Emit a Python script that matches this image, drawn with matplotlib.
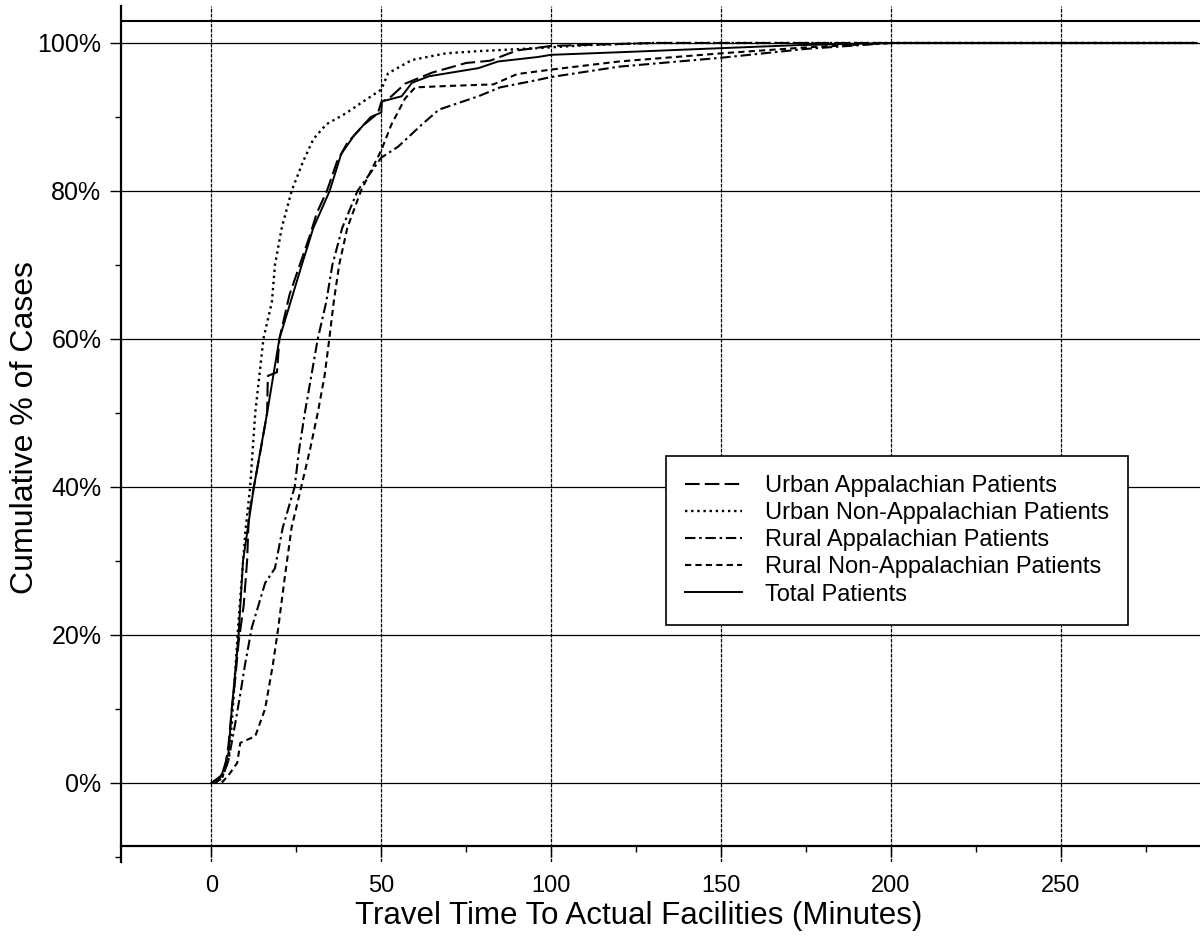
import matplotlib
matplotlib.use("Agg")
import matplotlib.pyplot as plt
from matplotlib.ticker import MultipleLocator, FixedLocator

# Données (minutes, % cumulé)
urban_app_min = [0, 2, 4, 5, 6, 7, 8, 9.5, 10.5, 11, 12.5, 14.5, 16.4, 16.6, 19.3, 20, 21, 23, 26, 29, 31, 34,
                 37, 40, 45, 49, 50, 53, 57, 65, 75, 82, 90, 100, 130, 290]
urban_app_pct = [0, 0.3, 2, 5, 10, 14, 19, 24, 30, 36, 40, 45, 50, 55, 55.5, 60, 62, 66, 70, 74, 77, 80,
                 84, 86.5, 89, 90.5, 92, 92.8, 94.5, 96, 97.3, 97.6, 99, 99.6, 100, 100]

urban_nonapp_min = [0, 3, 5, 6, 7, 8, 9, 10, 11.4, 12.9, 15.3, 17.8, 18.7, 20.7, 23.6, 27, 30, 33.8, 39.6,
                    44.4, 50, 52, 59, 69, 78.6, 96, 110, 130, 290]
urban_nonapp_pct = [0, 0.5, 3, 8, 15, 22, 28, 34, 40, 50, 60, 65, 70, 75, 80, 84, 87, 89, 90.5,
                    92, 93.7, 95.9, 97.7, 98.6, 98.9, 99.3, 99.7, 100, 100]

rural_app_min = [0, 3, 5, 7, 8.5, 9.9, 11.9, 15.8, 18.7, 21, 24.5, 25.8, 27.5, 29.4, 31.3, 33.8, 35.6, 38.5,
                 43, 50, 55, 62, 67, 78.6, 85, 96, 100, 120, 150, 175, 200, 290]
rural_app_pct = [0, 0.5, 3, 8, 12, 16, 21, 27, 29, 34.5, 40, 45, 50, 55, 60, 65, 70, 75,
                 80, 84.5, 86, 89, 91, 92.8, 94, 95, 95.4, 96.8, 98, 99.2, 100, 100]

rural_nonapp_min = [0, 3, 5, 7.6, 8.5, 12.9, 15.8, 18.1, 19.6, 21.6, 23.6, 26.6, 29, 31.3, 33.3, 34.7, 36,
                    37.6, 40, 44, 50, 53, 57, 60, 70, 83, 90, 100, 120, 150, 175, 200, 290]
rural_nonapp_pct = [0, 0, 1, 2.7, 5.4, 6.3, 10, 16, 20.7, 27.8, 34.5, 40.3, 45, 50, 55, 60, 65,
                    70, 75, 80, 85.5, 89, 92.5, 94, 94.2, 94.4, 95.8, 96.4, 97.5, 98.6, 99.4, 100, 100]

total_min = [0, 3, 5, 6, 8, 9.3, 12.5, 16.4, 20, 26.6, 30, 34.8, 38.2, 42, 46.9, 50, 50.2, 56, 59, 64,
             78.6, 84.4, 96, 100, 123, 150, 172, 200, 290]
total_pct = [0, 1, 4, 10, 20, 30, 40, 50, 60, 70, 75, 80, 85, 87.5, 90, 90.6, 92.1, 92.8, 94.6, 95.5,
             96.6, 97.5, 98.1, 98.4, 98.8, 99.3, 99.7, 100, 100]

series_labels = ["Urban Appalachian Patients", "Urban Non-Appalachian Patients",
                 "Rural Appalachian Patients", "Rural Non-Appalachian Patients", "Total Patients"]

plt.rcParams['font.family'] = ['Liberation Sans', 'DejaVu Sans']

fig = plt.figure(figsize=(12, 9.36), dpi=100)
ax = fig.add_axes([0.1006, 0.0791, 0.8994, 0.9145])

# Courbes
ax.plot(urban_app_min, urban_app_pct, color='black', lw=1.5, linestyle=(0, (7, 2.5)), label=series_labels[0])
ax.plot(urban_nonapp_min, urban_nonapp_pct, color='black', lw=1.7, linestyle=(0, (1, 1.6)), label=series_labels[1])
ax.plot(rural_app_min, rural_app_pct, color='black', lw=1.5, linestyle=(0, (5, 1.8, 1.2, 1.8)), label=series_labels[2])
ax.plot(rural_nonapp_min, rural_nonapp_pct, color='black', lw=1.5, linestyle=(0, (3, 2)), label=series_labels[3])
ax.plot(total_min, total_pct, color='black', lw=1.4, linestyle='-', label=series_labels[4])

ax.set_xlim(-26.7, 291)
ax.set_ylim(-10.7, 105)

# Axes et grille
ax.xaxis.set_major_locator(MultipleLocator(50))
ax.xaxis.set_minor_locator(FixedLocator([25, 75, 125, 175, 225, 275]))
ax.set_yticks([0, 20, 40, 60, 80, 100])
ax.set_yticklabels(["0%", "20%", "40%", "60%", "80%", "100%"])
ax.yaxis.set_minor_locator(FixedLocator([-10, 10, 30, 50, 70, 90]))
ax.grid(True, axis='y', which='major', color='black', lw=0.9)
ax.grid(True, axis='x', which='major', color='black', lw=0.9, linestyle=(0, (3, 1)))
ax.axhline(103, color='black', lw=1.5)

ax.spines['top'].set_visible(False)
ax.spines['right'].set_visible(False)
ax.spines['bottom'].set_position(('data', -8.5))
ax.spines['left'].set_linewidth(1.6)
ax.spines['bottom'].set_linewidth(1.6)

ax.tick_params(axis='y', which='major', direction='out', length=8, width=1, labelsize=18, pad=6)
ax.tick_params(axis='x', which='major', direction='out', length=8, width=1, labelsize=17, pad=13)
ax.tick_params(axis='both', which='minor', direction='out', length=4, width=1)

ax.set_xlabel("Travel Time To Actual Facilities (Minutes)", fontsize=22.5)
ax.xaxis.set_label_coords(0.48, -0.046)
ax.set_ylabel("Cumulative % of Cases", fontsize=23)
ax.yaxis.set_label_coords(-0.075, 0.507)

leg = ax.legend(loc='upper left', bbox_to_anchor=(0.5054, 0.4743), fontsize=17, frameon=True,
                fancybox=False, edgecolor='black', framealpha=1, handlelength=2.4,
                handletextpad=1.0, labelspacing=0.22, borderpad=0.8, borderaxespad=0)
leg.get_frame().set_linewidth(1.2)

plt.savefig("out.png", dpi=100)
